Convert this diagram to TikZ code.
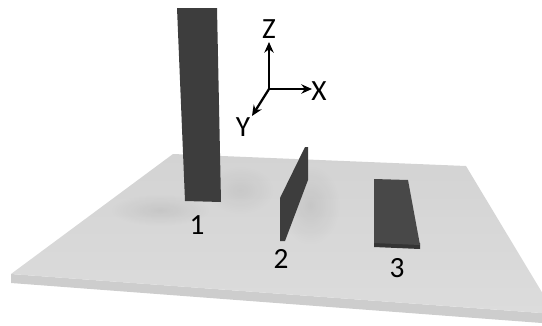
\documentclass[tikz,border=0pt]{standalone}
\usepackage{fontspec}
\setmainfont{Carlito}
\usetikzlibrary{arrows.meta,fadings}
\definecolor{plateTop}{RGB}{220,220,220}
\definecolor{plateBack}{RGB}{211,211,211}
\definecolor{plateEdge}{RGB}{205,205,205}
\definecolor{blockA}{RGB}{61,61,61}
\definecolor{blockB}{RGB}{72,72,72}
\definecolor{blockC}{RGB}{52,52,52}
\tikzfading[name=fuzzy,inner color=transparent!0,outer color=transparent!100]

\begin{document}
\begin{tikzpicture}[x=0.75pt,y=-0.75pt,
  axis/.style={draw=black,line width=1.7pt,-{Stealth[length=8pt,width=7pt]}},
  lab/.style={font=\fontsize{22}{22}\selectfont,inner sep=0},
  shadow/.style={fill=black,path fading=fuzzy,opacity=#1}]
 \useasboundingbox (0,0) rectangle (542,325);
 \begin{scope}
 \clip (0,0) rectangle (542,325);
 % plate
 \fill[plateEdge] (11,274) -- (555,314) -- (555,324) -- (11,283) -- cycle;
 \shade[top color=plateBack,bottom color=plateTop] (173,154) -- (466,166) -- (555,314) -- (11,274) -- cycle;
 % soft shadows
 \fill[shadow=0.07] (160,210) ellipse (50 and 16);
 \fill[shadow=0.06] (240,190) ellipse (34 and 24);
 \fill[shadow=0.07] (310,205) ellipse (30 and 40);
 \end{scope}
 % block 1
 \fill[blockA] (177,8) -- (217,8) -- (221,202) -- (185,201) -- cycle;
 % block 2
 \fill[blockA] (280,198) -- (305,147) -- (308,147) -- (308,180) -- (285,241) -- (280,241) -- cycle;
 % block 3
 \fill[blockC] (374,241) -- (420,243) -- (420,249) -- (374,247) -- cycle;
 \fill[blockB] (374,179) -- (408,180) -- (420,245) -- (374,243) -- cycle;
 % axes
 \coordinate (o) at (269,89);
 \coordinate (zt) at (269,42);
 \coordinate (xt) at (312,89);
 \coordinate (yt) at (252,116);
 \draw[axis] (o) -- (zt);
 \draw[axis] (o) -- (xt);
 \draw[axis] (o) -- (yt);
 \node[lab] (zl) at (269,29) {Z};
 \node[lab] (xl) at (319,91) {X};
 \node[lab] (yl) at (243,127) {Y};
 % labels
 \node[lab] (n1) at (197,225) {1};
 \node[lab] (n2) at (281,259) {2};
 \node[lab] (n3) at (397,268) {3};
\end{tikzpicture}
\end{document}
